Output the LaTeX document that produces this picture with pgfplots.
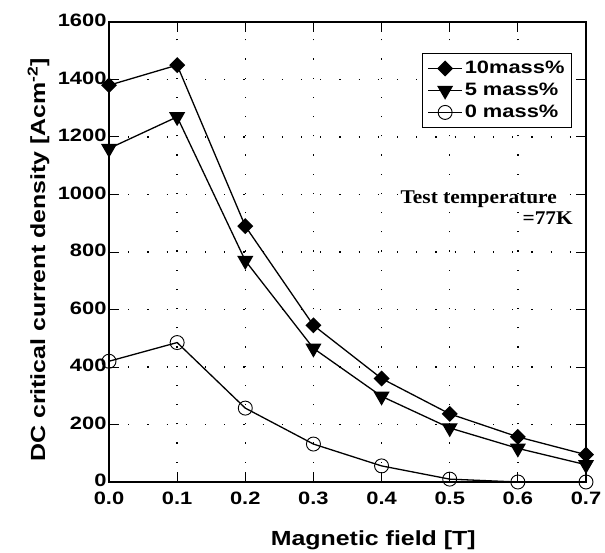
\documentclass[border=0pt]{standalone}
\usepackage{pgfplots}
\pgfplotsset{compat=1.18}
\usepackage{fontspec}
\setmainfont{Liberation Sans}[FakeStretch=1.22]
\newfontfamily\timesbf{Liberation Serif}[FakeStretch=1.1, BoldFont={* Bold}]

\begin{document}
\begin{tikzpicture}
\begin{axis}[
    scale only axis,
    width=477bp, height=460bp,
    xmin=0, xmax=0.7, ymin=0, ymax=1600,
    xtick={0,0.1,...,0.7},
    ytick={0,200,...,1600},
    xticklabel style={/pgf/number format/fixed, /pgf/number format/fixed zerofill,
        /pgf/number format/precision=1, yshift=-6bp},
    yticklabel style={/pgf/number format/fixed, /pgf/number format/1000 sep={}, xshift=1bp, yshift=1.5bp},
    /pgf/number format/assume math mode=true,
    tick label style={font=\fontsize{18}{20}\selectfont\bfseries},
    label style={font=\fontsize{20.5}{24}\selectfont\bfseries},
    xlabel={Magnetic field [T]},
    ylabel={DC critical current density [Acm\textsuperscript{-2}]},
    xlabel style={at={(axis description cs:0.554,0)}, anchor=base, yshift=-63bp},
    ylabel style={at={(axis description cs:-0.134,0.483)}, anchor=base},
    tick align=inside,
    major tick length=10bp,
    tick style={black, line width=1bp},
    axis line style={line width=1.4bp},
    grid=major,
    major grid style={black, line width=1.3bp, dash pattern=on 1.2bp off 18bp},
    legend style={at={(0.971,0.933)}, anchor=north east, draw=black, line width=1.3bp,
        font=\fontsize{18}{20}\selectfont\bfseries, row sep=4bp,
        inner xsep=5bp, inner ysep=6bp},
    legend cell align=left,
    legend image code/.code={
        \draw[mark repeat=2, mark phase=2] plot coordinates {(0bp,0bp) (17bp,0bp) (34bp,0bp)};},
    every axis plot/.append style={line width=1.3bp, black},
]
\addplot[mark=square*, mark size=5bp, mark options={solid, fill=black, rotate=45}] coordinates {
    (0,1380) (0.1,1450) (0.2,890) (0.3,545) (0.4,360) (0.5,237) (0.6,157) (0.7,95)};
\addlegendentry{10mass\%}
\addplot[mark=triangle*, mark size=8bp, mark options={solid, fill=black, rotate=180}] coordinates {
    (0,1160) (0.1,1270) (0.2,770) (0.3,465) (0.4,298) (0.5,188) (0.6,117) (0.7,60)};
\addlegendentry{5 mass\%}
\addplot[mark=o, mark size=7bp, mark options={solid, line width=0.9bp}] coordinates {
    (0,420) (0.1,485) (0.2,257) (0.3,132) (0.4,56) (0.5,10) (0.6,0) (0.7,0)};
\addlegendentry{0 mass\%}
\node[anchor=base east, inner sep=0pt, font=\timesbf\fontsize{19.5}{21}\selectfont\bfseries]
    at (axis cs:0.6574,970) {Test temperature};
\node[anchor=base east, inner sep=0pt, font=\timesbf\fontsize{19.5}{21}\selectfont\bfseries]
    at (axis cs:0.6809,894) {=77K};
\end{axis}
\path[use as bounding box] (-109bp,-68bp) rectangle (496bp,482bp);
\end{tikzpicture}
\end{document}
